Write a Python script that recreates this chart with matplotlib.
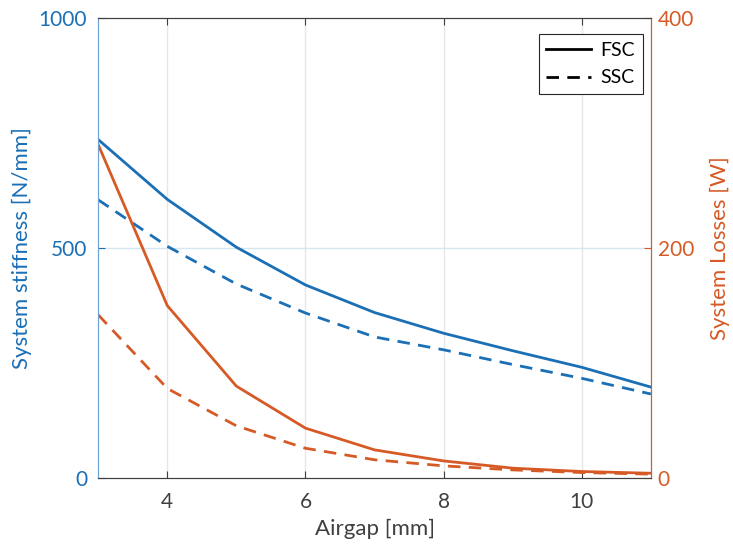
import matplotlib
matplotlib.use('Agg')
import matplotlib.pyplot as plt
from matplotlib.lines import Line2D

# data
airgap = [3, 4, 5, 6, 7, 8, 9, 10, 11]
stiff_fsc = [736, 606, 502, 420, 360, 315, 277, 241, 198]
stiff_ssc = [605, 504, 422, 359, 307, 279, 247, 217, 183]
loss_fsc = [290, 150, 80, 43.5, 24.6, 15, 8.7, 5.8, 4.3]
loss_ssc = [142, 78, 45.5, 26, 16, 10.7, 7.2, 4.9, 3.5]

blue = '#1a6fb5'
red = '#d65a26'
grey = '#404040'
dash = (0, (4.5, 3))
plt.rcParams['font.family'] = ['Lato', 'DejaVu Sans']

fig = plt.figure(figsize=(7.33, 5.49), dpi=100)
ax = fig.add_axes([0.134, 0.129, 0.754, 0.838])
ax2 = ax.twinx()

ax.plot(airgap, stiff_fsc, color=blue, lw=2)
ax.plot(airgap, stiff_ssc, color=blue, lw=2, ls=dash)
ax2.plot(airgap, loss_fsc, color=red, lw=2)
ax2.plot(airgap, loss_ssc, color=red, lw=2, ls=dash)

ax.set_xlim(3, 11)
ax.set_ylim(0, 1000)
ax2.set_ylim(0, 400)
ax.set_xticks([4, 6, 8, 10])
ax.set_yticks([0, 500, 1000])
ax2.set_yticks([0, 200, 400])

# grid like matlab: vertical gray, horizontal tinted
for xv in [4, 6, 8, 10]:
    ax.axvline(xv, color='#e6e6e6', lw=1, zorder=0)
ax.axhline(500, color='#d5e6f3', lw=1, zorder=0)

fs = 15
ax.tick_params(axis='x', direction='in', top=True, labelsize=fs, colors=grey, length=5, pad=10)
ax.tick_params(axis='y', direction='in', labelsize=fs, colors=blue, length=5, pad=8)
ax2.tick_params(axis='y', direction='in', labelsize=fs, colors=red, length=5, pad=5)

ax.set_xlabel('Airgap [mm]', fontsize=16, color=grey, labelpad=5)
ax.set_ylabel('System stiffness [N/mm]', fontsize=16, color=blue, labelpad=5)
ax2.set_ylabel('System Losses [W]', fontsize=16, color=red, labelpad=11)

for a in (ax, ax2):
    a.spines['top'].set_color(grey)
    a.spines['bottom'].set_color(grey)
    a.spines['left'].set_color('#6fa3d3')
    a.spines['right'].set_color(red)

handles = [Line2D([], [], color='k', lw=2),
           Line2D([], [], color='k', lw=2, ls=dash)]
leg = ax2.legend(handles, ['FSC', 'SSC'], loc='upper right', fontsize=14,
                 bbox_to_anchor=(643 / 733, 1 - 34 / 549), bbox_transform=fig.transFigure,
                 fancybox=False, framealpha=1, edgecolor='#262626',
                 borderaxespad=0, handlelength=2.3, handletextpad=0.5,
                 borderpad=0.4, labelspacing=0.55)
leg.get_frame().set_linewidth(0.8)

fig.savefig('out.png', dpi=100)
